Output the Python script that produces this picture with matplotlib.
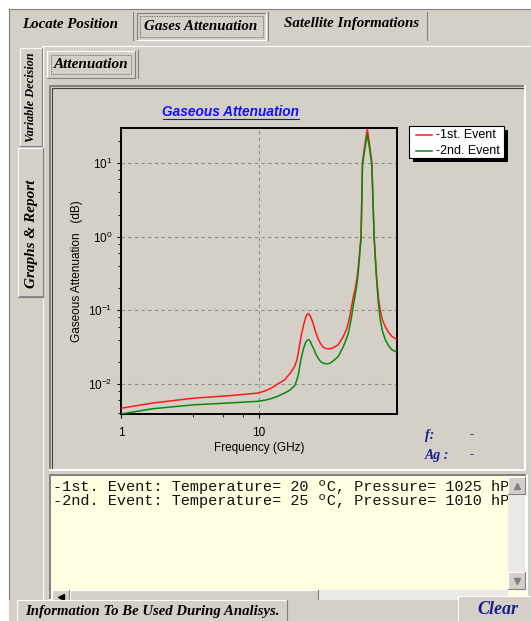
import matplotlib.pyplot as plt
from matplotlib.patches import Rectangle
from matplotlib.ticker import FixedLocator, LogLocator, NullFormatter

# gaseous attenuation (dB) versus frequency (GHz) for the two events
freq_1 = [1, 1.7, 3.37, 6, 9.8, 11, 12.2, 13.7, 15.3, 16.7, 18.1, 18.8, 19.3, 19.8, 20.3, 21, 21.7,
          22.3, 22.9, 23.5, 24.1, 24.7, 25.7, 26.8, 28, 29.5, 31, 32.5, 34.5, 37.5, 40.8, 43, 44.4,
          46, 46.9, 48.2, 49.6, 51.1, 52.2, 53.3, 54.3, 54.9, 55.6, 56.2, 58.6, 61, 63.2, 65.7,
          66.9, 68.3, 69.8, 71.4, 73.3, 75.5, 78.5, 82.2, 87, 92, 100]
att_1 = [0.00467, 0.0055, 0.0064, 0.0069, 0.0075, 0.0080, 0.0087, 0.0100, 0.0113, 0.0137, 0.0172,
         0.021, 0.027, 0.036, 0.047, 0.062, 0.078, 0.088, 0.090, 0.084, 0.075, 0.066, 0.051,
         0.041, 0.035, 0.031, 0.030, 0.030, 0.031, 0.034, 0.044, 0.055, 0.067, 0.092, 0.113, 0.15,
         0.19, 0.26, 0.36, 0.55, 0.8, 1.0, 3.5, 10.2, 18, 29, 18, 10.2, 3.5, 1.0, 0.5, 0.26, 0.15,
         0.10, 0.074, 0.060, 0.050, 0.044, 0.040]

freq_2 = [1, 1.7, 3.37, 6, 9.8, 11, 12.2, 13.7, 15.3, 16.7, 18.1, 18.8, 19.3, 19.8, 20.3, 21, 21.7,
          22.3, 22.9, 23.5, 24.1, 24.7, 25.7, 26.8, 28, 29.5, 31, 32.5, 34.5, 37.5, 40.8, 43, 44.4,
          46, 46.9, 48.2, 49.6, 51.1, 52.2, 53.3, 54.3, 54.9, 55.6, 56.2, 58.6, 60.8, 63.2, 65.7,
          66.9, 68.3, 69.8, 71.4, 73.3, 75.5, 78.5, 82.2, 87, 92, 100]
att_2 = [0.0039, 0.0046, 0.0052, 0.0055, 0.0058, 0.0060, 0.0063, 0.0068, 0.0075, 0.0082, 0.0094,
         0.0113, 0.0135, 0.018, 0.023, 0.030, 0.036, 0.039, 0.040, 0.038, 0.034, 0.031, 0.026,
         0.0225, 0.020, 0.0190, 0.0187, 0.019, 0.0205, 0.0236, 0.032, 0.041, 0.049, 0.068, 0.083,
         0.115, 0.155, 0.22, 0.31, 0.48, 0.75, 0.95, 3.2, 9.5, 16, 24.5, 16, 9.5, 3.2, 0.95, 0.47,
         0.24, 0.125, 0.075, 0.052, 0.040, 0.033, 0.029, 0.027]

event_names = ["-1st. Event", "-2nd. Event"]
event_info = ["-1st. Event: Temperature= 20 \u00baC, Pressure= 1025 hPa",
              "-2nd. Event: Temperature= 25 \u00baC, Pressure= 1010 hPa"]

FACE = "#d4d0c8"
RED = "#ff1a1a"
GREEN = "#078a07"
NAVY = "#1c1c8c"
SERIF = "Liberation Serif"
SANS = "Liberation Sans"

fig = plt.figure(figsize=(5.31, 6.21), dpi=100)
fig.patch.set_facecolor("white")

# pixel-coordinate layer for the window parts
bg = fig.add_axes([0, 0, 1, 1])
bg.set_xlim(0, 531)
bg.set_ylim(621, 0)
bg.axis("off")


def box(x0, y0, x1, y1, face=FACE, sunken=False, z=1, lw=0.8):
    bg.add_patch(Rectangle((x0, y0), x1 - x0, y1 - y0, facecolor=face, edgecolor="none", zorder=z))
    light, dark = ("#808080", "white") if sunken else ("white", "#808080")
    bg.plot([x0, x0, x1], [y1, y0, y0], color=light, lw=lw, zorder=z + 0.1)
    bg.plot([x0, x1, x1], [y1, y1, y0], color=dark, lw=lw, zorder=z + 0.1)


def label(x, y, s, size=9, color="black", rot=0, z=5):
    bg.text(x, y, s, ha="center", va="center", fontsize=size, color=color, rotation=rot,
            family=SERIF, weight="bold", style="italic", zorder=z)


# window body
box(9, 9, 531, 621, sunken=True, z=0)

# top tabs
bg.plot([42, 531], [46, 46], color="white", lw=0.8, zorder=2)
for xs in (133, 268, 427):
    bg.plot([xs, xs], [12, 40], color="#808080", lw=0.8, zorder=2)
box(137, 13, 266, 40, sunken=True, z=2)
bg.add_patch(Rectangle((140, 16), 123, 21, fill=False, edgecolor="#555555", lw=0.6,
                       linestyle=(0, (1, 1)), zorder=3))
label(70, 24, "Locate Position", size=10.8)
label(201, 27, "Gases Attenuation", size=10.8)
label(352, 24, "Satellite Informations", size=10.8)

# side tabs
bg.plot([43, 43], [46, 600], color="white", lw=0.8, zorder=2)
box(20, 48, 42, 146, z=2)
box(18, 148, 43, 297, z=2)
bg.plot([20, 43], [297, 297], color="#808080", lw=1.2, zorder=3)
label(31, 97, "Variable Decision", size=8.8, rot=90)
label(31, 234, "Graphs & Report", size=11, rot=90)

# sub tab
box(47, 51, 135, 78, z=2)
bg.add_patch(Rectangle((51, 55), 80, 19, fill=False, edgecolor="#555555", lw=0.6,
                       linestyle=(0, (1, 1)), zorder=3))
bg.plot([138, 138], [50, 78], color="#808080", lw=0.8, zorder=2)
label(91, 65, "Attenuation", size=11)

# chart panel
box(50, 86, 525, 470, sunken=True, z=2, lw=1.4)
bg.plot([52, 52, 523], [468, 88, 88], color="#404040", lw=0.8, zorder=3)

bg.text(231, 112, "Gaseous Attenuation", ha="center", va="center", fontsize=9.8, color="#1010ff",
        family=SANS, weight="bold", style="italic", zorder=5)
bg.plot([163, 299], [118.5, 118.5], color="#1010ff", lw=0.8, zorder=5)

# legend
series = [(event_names[0], RED), (event_names[1], GREEN)]
bg.add_patch(Rectangle((413, 130), 95, 32, facecolor="black", edgecolor="none", zorder=4))
bg.add_patch(Rectangle((409, 126), 95, 32, facecolor="white", edgecolor="black", lw=0.8, zorder=5))
for i, (name, col) in enumerate(series):
    yy = 134.5 + 16 * i
    bg.plot([416, 432], [yy, yy], color=col, lw=1.1, zorder=6)
    bg.text(436, yy, name, ha="left", va="center", fontsize=9, family=SANS, zorder=6)

# cursor readout
for yy, s in ((435, "f:"), (455, "Ag :")):
    bg.text(425, yy, s, ha="left", va="center", fontsize=10, color=NAVY, family=SERIF,
            weight="bold", style="italic", zorder=5)
    bg.text(471, yy, "-", ha="center", va="center", fontsize=9, color=NAVY, family=SANS, zorder=5)

# event text box
box(50, 475, 527, 600, face="#ffffe1", sunken=True, z=2, lw=1.4)
tb = fig.add_axes([53 / 531, 1 - 590 / 621, 455 / 531, 113 / 621])
tb.set_facecolor("#ffffe1")
tb.set_xlim(0, 455)
tb.set_ylim(113, 0)
tb.axis("off")
for i, line in enumerate(event_info):
    tb.text(0, 10 + 14 * i, line, ha="left", va="center", fontsize=11, color="#111111",
            family="Liberation Mono", clip_on=True)

# scrollbars
bg.add_patch(Rectangle((508, 477), 17, 113, facecolor="#ebe9e4", edgecolor="none", zorder=6))
box(508, 477, 525, 494, z=7)
box(508, 572, 525, 589, z=7)
bg.plot([516.5], [486], marker="^", ms=4, color="#808080", zorder=8)
bg.plot([516.5], [580.5], marker="v", ms=4, color="#808080", zorder=8)
bg.add_patch(Rectangle((52, 590), 456, 10, facecolor="#ebe9e4", edgecolor="none", zorder=6))
box(52, 590, 69, 605, z=7)
box(70, 590, 318, 605, z=7)
bg.plot([60.5], [597], marker="<", ms=4, color="black", zorder=8)

# bottom strip
bg.add_patch(Rectangle((9, 600), 522, 21, facecolor=FACE, edgecolor="none", zorder=9))
box(17, 600, 287, 625, z=10)
label(152, 612, "Information To Be Used During Analisys.", size=10.6, z=11)
box(458, 596, 535, 625, z=10)
label(498, 610, "Clear", size=13, color=NAVY, z=11)

# attenuation chart
ax = fig.add_axes([121 / 531, 1 - 414 / 621, 276 / 531, 286 / 621])
ax.set_facecolor(FACE)
ax.plot(freq_1, att_1, color=RED, lw=1.1, zorder=3)
ax.plot(freq_2, att_2, color=GREEN, lw=1.1, zorder=3)
ax.set_xscale("log")
ax.set_yscale("log")
ax.set_xlim(1, 100)
ax.set_ylim(0.0039, 30)
ax.set_xticks([1, 10])
ax.set_xticklabels(["1", "10"])
ax.xaxis.set_minor_locator(FixedLocator([3.3, 5.5, 7.7]))
ax.xaxis.set_minor_formatter(NullFormatter())
ax.set_yticks([0.01, 0.1, 1, 10])
ax.yaxis.set_minor_locator(LogLocator(subs=(2, 4, 6, 8)))
ax.yaxis.set_minor_formatter(NullFormatter())
ax.grid(True, which="major", color="#8a8a8a", linestyle=(0, (3, 3)), lw=0.8)
ax.tick_params(which="major", direction="out", length=3, width=0.8, labelsize=8.5, pad=3)
ax.tick_params(axis="x", which="major", pad=6.5)
ax.tick_params(which="minor", direction="out", length=2, width=0.6)
for lab in ax.get_xticklabels() + ax.get_yticklabels():
    lab.set_family(SANS)
for sp in ax.spines.values():
    sp.set_linewidth(1.4)
ax.set_xlabel("Frequency (GHz)", fontsize=8.5, family=SANS, labelpad=2)
ax.set_ylabel("Gaseous Attenuation   (dB)", fontsize=8.5, family=SANS, labelpad=4)

fig.savefig("out.png", dpi=100, facecolor=fig.get_facecolor())
